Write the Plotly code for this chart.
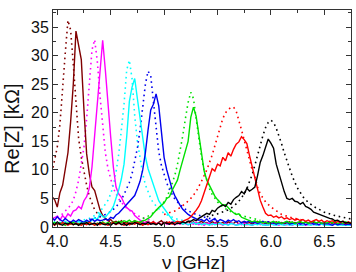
import plotly.graph_objects as go

# Frequency grid of the measured (solid) curves, GHz
F_START, F_STEP, F_N = 3.95, 0.025, 113
FREQ = [round(F_START + F_STEP * i, 3) for i in range(F_N)]

MAROON = [
    5.3, 4.8, 3.5, 6.0, 7.3, 10.0, 13.0, 18.4, 25.0, 34.3, 31.5, 29.3,
    20.5, 12.8, 9.3, 7.0, 6.4, 4.8, 3.0, 2.0, 1.5, 1.1, 1.3, 0.8,
    1.0, 0.6, 1.1, 0.7, 0.9, 0.5, 0.8, 1.1, 0.6, 0.9, 0.4, 0.8,
    1.0, 0.6, 0.9, 0.5, 0.8, 1.1, 0.6, 0.9, 0.5, 0.8, 1.0, 0.6,
    0.9, 0.5, 0.7, 1.0, 0.6, 0.9, 0.5, 0.8, 1.0, 0.6, 0.8, 0.5,
    0.9, 0.7, 1.0, 0.6, 0.8, 0.5, 0.9, 0.7, 0.6, 1.0, 0.5, 0.8,
    0.9, 0.6, 0.8, 0.5, 0.7, 1.0, 0.6, 0.8, 0.5, 0.9, 0.7, 0.6,
    0.9, 0.5, 0.8, 0.6, 0.7, 0.9, 0.5, 0.8, 0.6, 0.8, 0.5, 0.9,
    0.7, 0.5, 0.8, 0.6, 0.9, 0.6, 0.7, 0.5, 0.8, 0.6, 0.9, 0.5,
    0.7, 0.5, 0.8, 0.6, 0.7]
MAGENTA = [
    1.4, 1.6, 1.9, 1.2, 2.0, 1.5, 2.3, 1.9, 2.8, 3.0, 3.6, 3.2,
    4.6, 5.3, 6.8, 10.5, 16.0, 21.5, 27.0, 32.7, 27.5, 20.8, 15.8, 10.5,
    7.0, 5.8, 5.2, 4.2, 3.4, 3.0, 2.8, 2.0, 1.6, 1.2, 1.0, 0.7,
    0.9, 0.5, 0.8, 0.6, 0.7, 0.4, 0.8, 0.5, 0.6, 0.9, 0.4, 0.7,
    0.5, 0.8, 0.6, 0.4, 0.7, 0.5, 0.8, 0.4, 0.6, 0.3, 0.7, 0.5,
    0.4, 0.7, 0.5, 0.6, 0.3, 0.6, 0.4, 0.7, 0.5, 0.3, 0.6, 0.4,
    0.6, 0.4, 0.5, 0.3, 0.5, 0.7, 0.4, 0.6, 0.3, 0.5, 0.6, 0.4,
    0.5, 0.3, 0.6, 0.4, 0.4, 0.6, 0.3, 0.5, 0.6, 0.4, 0.5, 0.3,
    0.5, 0.6, 0.4, 0.5, 0.3, 0.5, 0.4, 0.6, 0.4, 0.3, 0.5, 0.4,
    0.5, 0.4, 0.3, 0.5, 0.4]
CYAN = [
    0.6, 0.9, 0.5, 0.8, 0.7, 1.0, 0.6, 0.8, 0.9, 0.6, 1.0, 0.7,
    0.9, 1.1, 0.8, 1.2, 1.6, 1.3, 2.4, 1.8, 1.7, 2.3, 2.8, 3.6,
    5.0, 6.5, 8.4, 11.0, 15.8, 22.0, 24.5, 26.0, 22.5, 19.0, 15.0, 12.3,
    10.2, 8.8, 7.6, 6.0, 4.6, 3.9, 3.2, 2.5, 1.8, 1.3, 1.0, 0.7,
    0.8, 0.5, 0.7, 0.4, 0.6, 0.8, 0.5, 0.7, 0.4, 0.6, 0.5, 0.3,
    0.6, 0.4, 0.5, 0.7, 0.4, 0.5, 0.3, 0.6, 0.5, 0.3, 0.4, 0.6,
    0.3, 0.5, 0.4, 0.3, 0.5, 0.4, 0.6, 0.3, 0.4, 0.3, 0.5, 0.4,
    0.3, 0.5, 0.4, 0.3, 0.5, 0.3, 0.4, 0.5, 0.3, 0.4, 0.3, 0.5,
    0.4, 0.3, 0.5, 0.3, 0.4, 0.5, 0.3, 0.4, 0.3, 0.4, 0.5, 0.3,
    0.4, 0.3, 0.4, 0.3, 0.4]
BLUE = [
    1.6, 1.2, 1.8, 1.3, 1.0, 1.5, 1.1, 0.8, 1.2, 0.9, 1.3, 1.0,
    0.8, 1.2, 0.9, 1.4, 1.0, 1.3, 1.1, 1.2, 1.4, 1.2, 1.7, 1.5,
    2.1, 2.4, 2.9, 3.4, 4.0, 4.4, 5.0, 5.5, 6.7, 8.0, 10.0, 13.0,
    17.0, 20.5, 21.5, 23.3, 21.2, 16.5, 12.2, 10.0, 8.2, 6.6, 5.5, 4.6,
    3.8, 3.1, 2.6, 2.2, 1.9, 1.7, 1.4, 1.2, 1.3, 1.0, 1.4, 0.9,
    1.2, 1.5, 0.9, 1.3, 1.1, 0.8, 1.2, 1.0, 1.3, 0.9, 1.1, 0.7,
    1.0, 0.8, 1.1, 0.7, 0.9, 0.6, 0.8, 1.0, 0.7, 0.9, 0.6, 0.8,
    0.5, 0.8, 0.6, 0.7, 0.9, 0.5, 0.7, 0.6, 0.8, 0.5, 0.7, 0.4,
    0.6, 0.8, 0.5, 0.6, 0.4, 0.7, 0.5, 0.6, 0.5, 0.3, 0.6, 0.4,
    0.5, 0.6, 0.4, 0.5, 0.4]
GREEN = [
    0.5, 0.8, 0.4, 0.7, 0.6, 0.3, 0.7, 0.5, 0.8, 0.5, 0.6, 0.4,
    0.7, 0.5, 0.8, 0.6, 0.4, 0.7, 0.5, 0.9, 0.6, 0.8, 0.5, 0.9,
    0.7, 1.0, 0.8, 1.1, 0.9, 1.2, 0.8, 1.1, 1.0, 0.8, 1.1, 1.2,
    1.5, 1.8, 2.4, 3.0, 3.4, 3.8, 4.2, 5.0, 5.3, 6.4, 7.2, 8.2,
    10.0, 11.7, 13.2, 15.0, 19.2, 21.0, 19.4, 16.3, 12.8, 9.8, 8.2, 7.3,
    6.4, 5.4, 4.8, 4.2, 3.8, 3.9, 3.3, 2.9, 2.5, 2.2, 2.3, 1.7,
    1.5, 1.3, 1.0, 0.9, 1.1, 0.8, 1.0, 0.7, 0.9, 0.6, 0.8, 1.0,
    0.7, 0.9, 0.6, 0.8, 1.0, 0.7, 0.9, 0.6, 0.8, 1.0, 0.7, 0.9,
    0.6, 0.8, 1.0, 0.7, 0.9, 0.6, 0.8, 0.7, 1.0, 0.7, 0.9, 0.6,
    0.8, 0.6, 0.9, 0.7, 0.8]
RED = [
    0.6, 0.3, 0.7, 0.4, 0.8, 0.5, 0.3, 0.6, 0.4, 0.7, 0.5, 0.3,
    0.6, 0.4, 0.8, 0.5, 0.3, 0.6, 0.4, 0.7, 0.5, 0.3, 0.6, 0.8,
    0.4, 0.7, 0.5, 0.3, 0.6, 0.4, 0.7, 0.5, 0.8, 0.5, 0.3, 0.6,
    0.4, 0.7, 0.9, 0.5, 0.7, 0.4, 0.8, 0.6, 0.9, 0.5, 0.7, 1.0,
    0.8, 1.0, 1.2, 1.4, 1.8, 2.3, 2.9, 3.6, 4.6, 6.0, 7.6, 8.8,
    10.2, 9.8, 11.0, 10.7, 12.2, 11.6, 13.0, 12.4, 13.6, 14.5, 14.9, 15.8,
    15.3, 14.6, 12.5, 10.5, 8.2, 6.2, 4.7, 3.5, 2.4, 2.0, 2.1, 1.7,
    1.9, 1.6, 1.8, 1.4, 1.6, 1.3, 1.5, 1.2, 1.4, 1.1, 1.3, 1.0,
    1.2, 0.9, 1.1, 1.3, 1.0, 1.2, 0.8, 1.1, 0.9, 1.1, 0.7, 1.0,
    0.8, 1.0, 0.6, 0.9, 0.7]
BLACK = [
    0.8, 0.4, 0.9, 0.5, 0.3, 0.7, 0.5, 0.8, 0.4, 0.6, 0.3, 0.7,
    0.5, 0.8, 0.4, 0.6, 0.7, 0.3, 0.8, 0.5, 0.4, 0.6, 0.3, 0.7,
    0.5, 0.8, 0.4, 0.6, 0.3, 0.7, 0.5, 0.8, 0.6, 0.4, 0.7, 0.5,
    0.8, 0.5, 0.6, 0.4, 0.7, 0.3, 0.8, 0.6, 0.5, 0.8, 0.4, 0.7,
    0.6, 0.9, 0.7, 1.0, 1.0, 1.3, 1.1, 1.5, 1.8, 2.0, 2.4, 2.2,
    2.9, 2.7, 3.3, 3.6, 3.9, 3.6, 4.3, 4.0, 4.8, 5.2, 5.5, 6.2,
    5.8, 6.8, 6.3, 6.6, 7.0, 9.0, 11.3, 12.5, 14.0, 15.4, 14.7, 13.8,
    11.0, 9.3, 7.6, 6.2, 5.0, 4.8, 5.0, 4.5, 4.4, 4.0, 4.3, 3.6,
    3.4, 3.1, 2.6, 2.4, 2.2, 2.0, 1.9, 1.6, 1.5, 1.4, 1.1, 1.2,
    0.9, 1.0, 0.7, 0.8, 0.6]

# Calculated (dotted) curves: frequency and Re[Z]
MAROON_D_F = [3.95, 3.975, 4.0, 4.025, 4.05, 4.075, 4.1, 4.125, 4.15, 4.175, 4.2,
              4.225, 4.25, 4.275, 4.3, 4.325, 4.35, 4.4, 4.45, 4.5, 4.6, 4.7]
MAROON_D = [9.5, 11.5, 14.0, 18.0, 23.5, 30.5, 36.2, 34.5, 28.5, 21.0, 15.5,
            12.2, 9.6, 7.3, 5.4, 4.0, 3.0, 1.8, 1.2, 0.9, 0.6, 0.4]
MAGENTA_D_F = [3.95, 4.0, 4.05, 4.1, 4.125, 4.15, 4.175, 4.2, 4.225, 4.25, 4.275,
               4.3, 4.325, 4.35, 4.375, 4.4, 4.425, 4.45, 4.475, 4.5, 4.525, 4.55,
               4.575, 4.6, 4.65, 4.7, 4.75, 4.8, 4.9]
MAGENTA_D = [1.5, 1.8, 2.3, 3.2, 3.8, 4.7, 6.2, 8.2, 11.0, 14.0, 19.0,
             25.5, 31.0, 32.8, 29.0, 23.0, 17.5, 13.0, 10.2, 8.3, 6.8, 5.8,
             4.9, 4.3, 3.3, 2.6, 2.0, 1.6, 1.1]
CYAN_D_F = [4.2, 4.3, 4.35, 4.4, 4.425, 4.45, 4.475, 4.5, 4.525, 4.55, 4.575,
            4.6, 4.625, 4.65, 4.675, 4.7, 4.725, 4.75, 4.775, 4.8, 4.825, 4.85,
            4.875, 4.9, 4.95, 5.0, 5.05, 5.1, 5.2]
CYAN_D = [1.0, 1.5, 2.0, 2.7, 3.3, 3.9, 4.7, 5.8, 7.3, 9.6, 12.7,
          17.0, 21.5, 27.5, 29.2, 26.0, 19.5, 15.0, 11.8, 9.3, 7.4, 6.1,
          5.0, 4.2, 3.2, 2.4, 1.9, 1.5, 1.0]
BLUE_D_F = [4.3, 4.4, 4.45, 4.5, 4.55, 4.575, 4.6, 4.625, 4.65, 4.675, 4.7,
            4.725, 4.75, 4.775, 4.8, 4.825, 4.85, 4.875, 4.9, 4.925, 4.95, 4.975,
            5.0, 5.025, 5.05, 5.075, 5.1, 5.15, 5.2, 5.25, 5.3, 5.4, 5.5]
BLUE_D = [1.3, 1.8, 2.2, 2.7, 3.5, 4.1, 4.8, 5.7, 6.7, 7.8, 9.3,
          11.3, 13.8, 17.0, 21.0, 25.0, 27.3, 26.5, 22.0, 17.0, 13.2, 10.8,
          9.0, 7.7, 6.6, 5.7, 4.9, 3.9, 3.1, 2.6, 2.2, 1.6, 1.2]
GREEN_D_F = [4.8, 4.85, 4.9, 4.95, 5.0, 5.025, 5.05, 5.075, 5.1, 5.125, 5.15,
             5.175, 5.2, 5.225, 5.25, 5.275, 5.3, 5.325, 5.35, 5.375, 5.4, 5.425,
             5.45, 5.5, 5.55, 5.6, 5.7, 5.8, 5.9]
GREEN_D = [1.5, 1.9, 2.5, 3.3, 4.4, 5.2, 6.3, 7.6, 9.0, 10.9, 13.2,
           16.0, 19.0, 21.8, 23.6, 22.5, 19.0, 15.5, 12.3, 9.8, 8.0, 6.7,
           5.7, 4.4, 3.5, 2.9, 2.1, 1.6, 1.2]
RED_D_F = [5.0, 5.1, 5.15, 5.2, 5.25, 5.3, 5.35, 5.4, 5.45, 5.5, 5.525,
           5.55, 5.575, 5.6, 5.625, 5.65, 5.675, 5.7, 5.725, 5.75, 5.775, 5.8,
           5.825, 5.85, 5.875, 5.9, 5.925, 5.95, 6.0, 6.05, 6.1, 6.2, 6.3]
RED_D = [2.2, 2.8, 3.4, 4.1, 5.0, 6.2, 8.0, 10.0, 12.6, 15.8, 17.5,
         19.0, 20.0, 20.6, 20.9, 21.0, 20.3, 18.8, 17.0, 15.2, 13.5, 11.7,
         10.0, 8.8, 7.0, 5.8, 5.0, 4.4, 3.5, 2.8, 2.2, 1.6, 1.2]
BLACK_D_F = [5.4, 5.5, 5.6, 5.65, 5.7, 5.75, 5.775, 5.8, 5.825, 5.85, 5.875,
             5.9, 5.925, 5.95, 5.975, 6.0, 6.025, 6.05, 6.075, 6.1, 6.125, 6.15,
             6.175, 6.2, 6.225, 6.25, 6.3, 6.35, 6.4, 6.45, 6.5, 6.6, 6.7, 6.75]
BLACK_D = [1.8, 2.3, 3.0, 3.6, 4.5, 5.8, 6.7, 7.8, 9.2, 10.8, 12.7,
           14.6, 16.0, 17.4, 18.3, 18.7, 18.3, 17.3, 16.0, 14.6, 13.0, 11.5,
           10.1, 8.9, 7.8, 6.8, 5.3, 4.3, 3.6, 3.1, 2.6, 2.0, 1.6, 1.4]

COLORS = ["#800000", "#ff00ff", "#00ffff", "#0000ee", "#00e000", "#ff0000", "#000000"]
SOLID = [MAROON, MAGENTA, CYAN, BLUE, GREEN, RED, BLACK]
DOTTED = [(MAROON_D_F, MAROON_D), (MAGENTA_D_F, MAGENTA_D), (CYAN_D_F, CYAN_D),
          (BLUE_D_F, BLUE_D), (GREEN_D_F, GREEN_D), (RED_D_F, RED_D),
          (BLACK_D_F, BLACK_D)]

for s in SOLID:
    assert len(s) == F_N, len(s)
for fx, fy in DOTTED:
    assert len(fx) == len(fy), (len(fx), len(fy))

FONT = "Liberation Sans, Arial, sans-serif"
fig = go.Figure()
for (fx, fy), c in zip(DOTTED, COLORS):
    fig.add_trace(go.Scatter(x=fx, y=fy, mode="lines",
                             line=dict(color=c, width=1.6, dash="1.6px,3.6px"),
                             showlegend=False, hoverinfo="skip"))
for s, c in zip(SOLID, COLORS):
    fig.add_trace(go.Scatter(x=FREQ, y=s, mode="lines",
                             line=dict(color=c, width=1.4),
                             showlegend=False, hoverinfo="skip"))

axis_common = dict(showgrid=False, zeroline=False, showline=True,
                   linecolor="#333333", linewidth=1, mirror="allticks",
                   ticks="inside", ticklen=5, tickwidth=1, tickcolor="#333333",
                   tickfont=dict(family=FONT, size=16, color="#111111"))
fig.update_layout(
    width=356, height=272,
    margin=dict(l=53, r=5, t=10, b=45),
    paper_bgcolor="white", plot_bgcolor="white",
    xaxis=dict(range=[3.96, 6.75], tick0=4.0, dtick=0.5, tickformat=".1f",
               minor=dict(ticks="inside", ticklen=3, tick0=4.0, dtick=0.25,
                          tickcolor="#333333"),
               **axis_common),
    yaxis=dict(range=[0, 38], tick0=0, dtick=5,
               minor=dict(ticks="inside", ticklen=3, tick0=0, dtick=2.5,
                          tickcolor="#333333"),
               **axis_common),
    annotations=[
        dict(text="ν [GHz]", xref="paper", yref="paper", x=0.473, y=0,
             yshift=-35, xanchor="center", yanchor="middle", showarrow=False,
             font=dict(family=FONT, size=19, color="#111111")),
        dict(text="Re[Z] [kΩ]", xref="paper", yref="paper", x=-0.1376, y=0.456,
             xanchor="center", yanchor="middle", textangle=-90, showarrow=False,
             font=dict(family=FONT, size=20, color="#111111")),
    ],
)
fig.write_html("out.html")
